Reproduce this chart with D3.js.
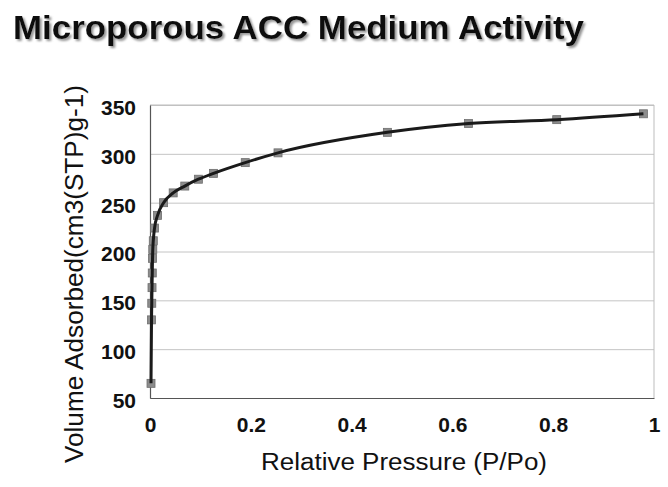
<!DOCTYPE html>
<html>
<head>
<meta charset="utf-8">
<script src="https://cdn.jsdelivr.net/npm/d3@7"></script>
<style>
  body { margin: 0; background: #fff; }
  text { font-family: "Liberation Sans", Arial, sans-serif; }
</style>
</head>
<body>
<svg class="isotherm"></svg>
<script>
var pressure = [0.002, 0.003, 0.0035, 0.004, 0.0045, 0.005, 0.0055, 0.0065, 0.009, 0.015, 0.027,
                0.046, 0.069, 0.096, 0.126, 0.189, 0.254, 0.471, 0.632, 0.807, 0.979];
var adsorbed = [65, 130, 147, 163, 178, 193, 202, 211, 224, 237, 250,
                260, 267, 274, 280, 291, 301, 322, 331, 335, 341];
var xTicks = [0, 0.2, 0.4, 0.6, 0.8, 1];
var yTicks = [50, 100, 150, 200, 250, 300, 350];

var W = 668, H = 487;
var margin = { top: 105, right: 14, bottom: 89, left: 150 };
var width = W - margin.left - margin.right;
var height = H - margin.top - margin.bottom;

var x = d3.scaleLinear().domain([0, 1]).range([0, width]);
var y = d3.scaleLinear().domain([50, 350]).range([height, 0]);

var svg = d3.select(".isotherm")
    .attr("width", W)
    .attr("height", H);

// grey drop shadow for the title (scan look)
svg.append("defs").append("filter")
    .attr("id", "shadow")
    .attr("x", "-5%").attr("y", "-20%").attr("width", "110%").attr("height", "150%")
    .append("feDropShadow")
    .attr("dx", 2).attr("dy", 2)
    .attr("stdDeviation", 0.8)
    .attr("flood-color", "#888")
    .attr("flood-opacity", 0.9);

svg.append("text")
    .attr("x", 13).attr("y", 39)
    .attr("font-size", 34).attr("font-weight", "bold")
    .attr("textLength", 571).attr("lengthAdjust", "spacingAndGlyphs")
    .attr("fill", "#111")
    .attr("filter", "url(#shadow)")
    .text("Microporous ACC Medium Activity");

var chart = svg.append("g")
    .attr("transform", "translate(" + margin.left + "," + margin.top + ")");

// horizontal gridlines
chart.append("g")
    .attr("class", "grid")
    .call(d3.axisLeft(y).tickValues(yTicks).tickSize(-width).tickFormat(""))
    .call(function (g) { g.select(".domain").remove(); })
    .selectAll("line")
    .attr("stroke", "#c4c4c4");

// light frame on top and right
chart.append("path")
    .attr("d", "M0,0H" + width + "V" + height)
    .attr("fill", "none")
    .attr("stroke", "#bdbdbd");

var yAxis = chart.append("g")
    .call(d3.axisLeft(y).tickValues(yTicks).tickSize(0).tickPadding(14));
var xAxis = chart.append("g")
    .attr("transform", "translate(0," + height + ")")
    .call(d3.axisBottom(x).tickValues(xTicks).tickSize(0).tickPadding(19)
        .tickFormat(function (d) { return d3.format("")(d); }));

[yAxis, xAxis].forEach(function (a) {
    a.select(".domain").attr("stroke", "#555").attr("stroke-width", 1.2);
    a.selectAll("text")
        .attr("font-size", 21)
        .attr("font-weight", "bold")
        .attr("fill", "#111")
        .style("font-family", "'Liberation Sans', Arial, sans-serif");
});
yAxis.selectAll("text").attr("dy", "0.45em");

// markers then the curve over them
var pts = pressure.map(function (p, i) { return [p, adsorbed[i]]; });
var ms = 8;
chart.selectAll(".pt")
    .data(pts)
    .enter().append("rect")
    .attr("class", "pt")
    .attr("x", function (d) { return x(d[0]) - ms / 2; })
    .attr("y", function (d) { return y(d[1]) - ms / 2; })
    .attr("width", ms).attr("height", ms)
    .attr("fill", "#8c8c8c")
    .attr("stroke", "#6e6e6e")
    .attr("stroke-width", 0.8);

var line = d3.line()
    .x(function (d) { return x(d[0]); })
    .y(function (d) { return y(d[1]); })
    .curve(d3.curveMonotoneX);
chart.append("path")
    .datum(pts)
    .attr("d", line)
    .attr("fill", "none")
    .attr("stroke", "#1a1a1a")
    .attr("stroke-width", 3);

// axis titles
svg.append("text")
    .attr("x", 404).attr("y", 470)
    .attr("text-anchor", "middle")
    .attr("font-size", 23)
    .attr("textLength", 286).attr("lengthAdjust", "spacingAndGlyphs")
    .attr("fill", "#111")
    .text("Relative Pressure (P/Po)");
svg.append("text")
    .attr("transform", "translate(83,274) rotate(-90)")
    .attr("text-anchor", "middle")
    .attr("font-size", 25)
    .attr("textLength", 378).attr("lengthAdjust", "spacingAndGlyphs")
    .attr("fill", "#111")
    .text("Volume Adsorbed(cm3(STP)g-1)");
</script>
</body>
</html>
